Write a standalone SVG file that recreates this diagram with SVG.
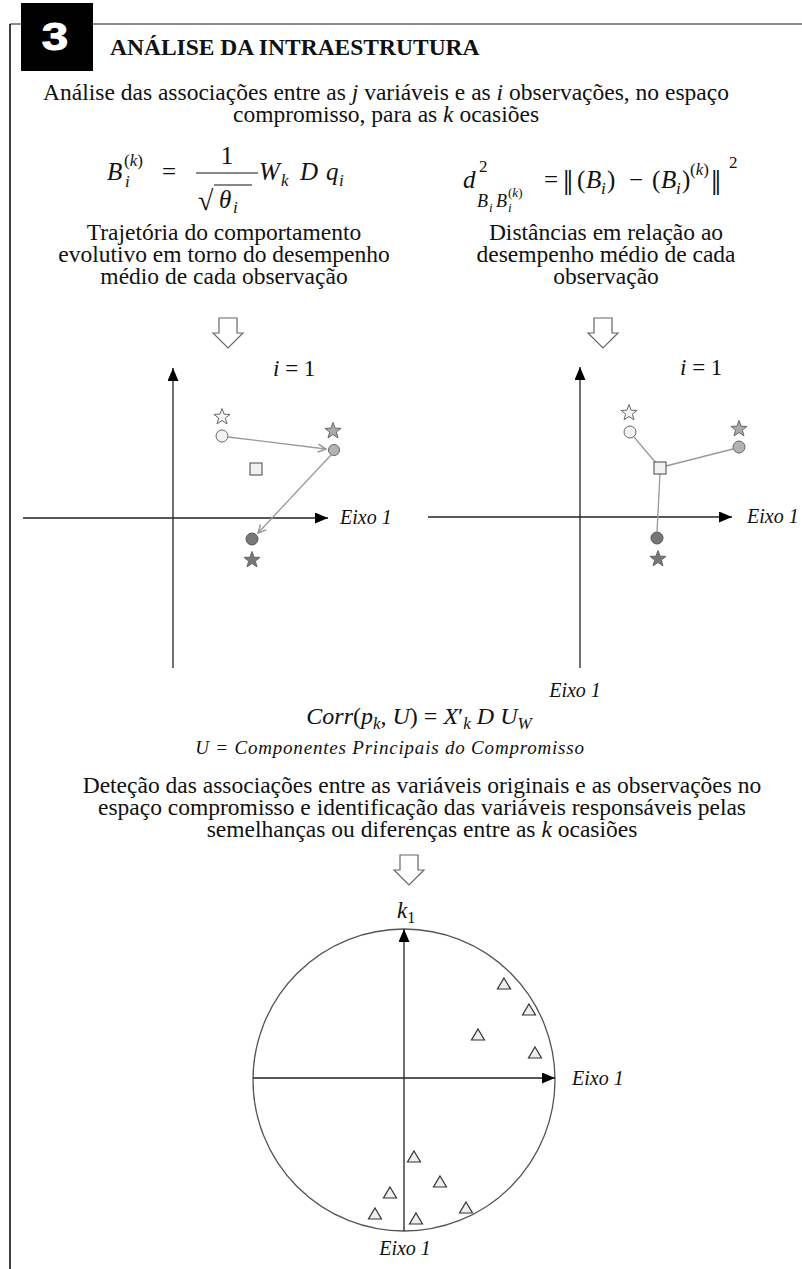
<svg xmlns="http://www.w3.org/2000/svg" width="802" height="1269" viewBox="0 0 802 1269">
<style>
text { font-family: "Liberation Serif", "Times New Roman", serif; fill: #111; }
.b { font-size: 23.5px; }
.m { font-style: italic; }
.ei { font-size: 20px; font-style: italic; }
.ax { stroke: #222; stroke-width: 1.3; fill: none; }
.gl { stroke: #999; stroke-width: 1.3; fill: none; }
.blk { fill: #fff; stroke: #666; stroke-width: 1.2; }
.tri { fill: #eee; stroke: #333; stroke-width: 1.2; }
</style>
<defs>
<marker id="ah" viewBox="0 0 13 11" refX="13" refY="5.5" markerWidth="13" markerHeight="11" markerUnits="userSpaceOnUse" orient="auto">
<path d="M0,0 L13,5.5 L0,11 Z" fill="#000"/>
</marker>
<marker id="oa" viewBox="0 0 10 10" refX="9" refY="5" markerWidth="10" markerHeight="10" markerUnits="userSpaceOnUse" orient="auto">
<path d="M1,1 L9,5 L1,9" stroke="#999" stroke-width="1.5" fill="none"/>
</marker>
<path id="star" d="M0,-8.5 L2.06,-2.84 L8.08,-2.63 L3.34,1.08 L5,6.88 L0,3.5 L-5,6.88 L-3.34,1.08 L-8.08,-2.63 L-2.06,-2.84 Z" stroke="#666" stroke-width="1"/>
<path id="barrow" d="M-9,0 H9 V15 H15 L0,30 L-15,15 H-9 Z"/>
<path id="tri" d="M0,-6 L6.5,5 L-6.5,5 Z"/>
</defs>

<g id="frame">
<line x1="10" y1="24" x2="802" y2="24" stroke="#666" stroke-width="1.5"/>
<line x1="10" y1="24" x2="10" y2="1269" stroke="#000" stroke-width="1.5"/>
<rect x="21" y="3" width="72" height="68" fill="#000"/>
<text x="55" y="50" font-weight="bold" font-size="38" text-anchor="middle" stroke="#fff" stroke-width="1" transform="translate(55 0) scale(1.25 1) translate(-55 0)" style="fill:#fff;font-family:'Liberation Sans','DejaVu Sans',sans-serif">3</text>
<text x="110" y="55" font-weight="bold" font-size="23.5">ANÁLISE DA INTRAESTRUTURA</text>
</g>

<g id="intro">
<text class="b" x="386" y="100" text-anchor="middle">Análise das associações entre as <tspan class="m">j</tspan> variáveis e as <tspan class="m">i</tspan> observações, no espaço</text>
<text class="b" x="386" y="122" text-anchor="middle">compromisso, para as <tspan class="m">k</tspan> ocasiões</text>
</g>

<g id="formula-left">
<text class="m" x="107" y="180" font-size="25">B</text>
<text class="m" x="125" y="187" font-size="17">i</text>
<text x="124" y="166" font-size="17">(<tspan class="m">k</tspan>)</text>
<text x="169" y="180" font-size="25" text-anchor="middle">=</text>
<text x="227" y="164" font-size="25" text-anchor="middle">1</text>
<line x1="196" y1="173" x2="258" y2="173" stroke="#111" stroke-width="1.2"/>
<text x="198" y="210" font-size="28">√</text>
<line x1="214" y1="185" x2="252" y2="185" stroke="#111" stroke-width="1.1"/>
<text class="m" x="219" y="208" font-size="25">θ</text>
<text class="m" x="233" y="213" font-size="17">i</text>
<text class="m" x="259" y="180" font-size="25">W</text>
<text class="m" x="281" y="186" font-size="17">k</text>
<text class="m" x="300" y="180" font-size="25">D</text>
<text class="m" x="326" y="180" font-size="25">q</text>
<text class="m" x="339" y="186" font-size="17">i</text>
</g>

<g id="formula-right">
<text class="m" x="463" y="188" font-size="25">d</text>
<text x="479" y="172" font-size="17">2</text>
<text class="m" x="477" y="207" font-size="18">B</text>
<text class="m" x="489" y="212" font-size="13">i</text>
<text class="m" x="496" y="207" font-size="18">B</text>
<text class="m" x="508" y="212" font-size="13">i</text>
<text x="508" y="197" font-size="13">(<tspan class="m">k</tspan>)</text>
<text x="551" y="188" font-size="25" text-anchor="middle">=</text>
<text x="563" y="195" font-size="36">‖</text>
<text x="577" y="188" font-size="25">(</text>
<text class="m" x="586" y="188" font-size="25">B</text>
<text class="m" x="601" y="194" font-size="17">i</text>
<text x="607" y="188" font-size="25">)</text>
<text x="636" y="188" font-size="25" text-anchor="middle">−</text>
<text x="652" y="188" font-size="25">(</text>
<text class="m" x="661" y="188" font-size="25">B</text>
<text class="m" x="676" y="194" font-size="17">i</text>
<text x="682" y="188" font-size="25">)</text>
<text x="690" y="175" font-size="17">(<tspan class="m">k</tspan>)</text>
<text x="711" y="195" font-size="36">‖</text>
<text x="729" y="168" font-size="17">2</text>
</g>

<g id="caption-left">
<text class="b" x="224" y="240" text-anchor="middle">Trajetória do comportamento</text>
<text class="b" x="224" y="262" text-anchor="middle">evolutivo em torno do desempenho</text>
<text class="b" x="224" y="284" text-anchor="middle">médio de cada observação</text>
</g>
<g id="caption-right">
<text class="b" x="606" y="240" text-anchor="middle">Distâncias em relação ao</text>
<text class="b" x="606" y="262" text-anchor="middle">desempenho médio de cada</text>
<text class="b" x="606" y="284" text-anchor="middle">observação</text>
</g>

<g id="block-arrows">
<use href="#barrow" class="blk" x="228" y="318"/>
<use href="#barrow" class="blk" x="603" y="318"/>
<use href="#barrow" class="blk" x="409" y="855"/>
</g>

<g id="plot-left">
<line class="ax" x1="173" y1="668" x2="173" y2="368" marker-end="url(#ah)"/>
<line class="ax" x1="23" y1="518" x2="328" y2="518" marker-end="url(#ah)"/>
<text class="ei" x="340" y="524">Eixo 1</text>
<text x="273" y="376" font-size="23"><tspan class="m">i</tspan> = 1</text>
<use href="#star" x="222" y="417" fill="#f5f5f5"/>
<circle cx="222" cy="436" r="6" fill="#f2f2f2" stroke="#666" stroke-width="1"/>
<use href="#star" x="333" y="431" fill="#aaa"/>
<circle cx="334" cy="450" r="5.5" fill="#b3b3b3" stroke="#666" stroke-width="1"/>
<rect x="250" y="463" width="12" height="12" fill="#f2f2f2" stroke="#444" stroke-width="1"/>
<circle cx="252" cy="539" r="6" fill="#777" stroke="#555" stroke-width="1"/>
<use href="#star" x="252" y="560" fill="#777"/>
</g>

<g id="plot-right">
<line class="ax" x1="580" y1="668" x2="580" y2="367" marker-end="url(#ah)"/>
<line class="ax" x1="428" y1="517" x2="732" y2="517" marker-end="url(#ah)"/>
<text class="ei" x="747" y="523">Eixo 1</text>
<text class="ei" x="575" y="697" text-anchor="middle">Eixo 1</text>
<text x="680" y="375" font-size="23"><tspan class="m">i</tspan> = 1</text>
<use href="#star" x="629" y="413" fill="#f5f5f5"/>
<circle cx="630" cy="432" r="6" fill="#f2f2f2" stroke="#666" stroke-width="1"/>
<use href="#star" x="739" y="429" fill="#aaa"/>
<circle cx="739" cy="447" r="6" fill="#b3b3b3" stroke="#666" stroke-width="1"/>
<circle cx="657" cy="538" r="6" fill="#777" stroke="#555" stroke-width="1"/>
<use href="#star" x="658" y="559" fill="#777"/>
</g>

<g id="connectors">
<line class="gl" x1="228" y1="437" x2="326" y2="449" marker-end="url(#oa)"/>
<line class="gl" x1="331" y1="455" x2="258" y2="533" marker-end="url(#oa)"/>
<line class="gl" x1="634" y1="437" x2="656" y2="463"/>
<line class="gl" x1="666" y1="466" x2="733" y2="449"/>
<line class="gl" x1="660" y1="474" x2="657" y2="532"/>
</g>
<g id="plot-right-square">
<rect x="654" y="462" width="12" height="12" fill="#f2f2f2" stroke="#444" stroke-width="1"/>
</g>

<g id="corr">
<text x="419" y="724" font-size="24" text-anchor="middle"><tspan class="m">Corr</tspan>(<tspan class="m">p</tspan><tspan class="m" font-size="17" dy="5">k</tspan><tspan dy="-5">, </tspan><tspan class="m">U</tspan>) = <tspan class="m">X</tspan>′<tspan class="m" font-size="17" dy="5">k</tspan><tspan dy="-5"> </tspan><tspan class="m">D U</tspan><tspan class="m" font-size="17" dy="5">W</tspan></text>
<text class="m" x="390" y="754" font-size="19" letter-spacing="0.8" text-anchor="middle">U = Componentes Principais do Compromisso</text>
</g>

<g id="caption-bottom">
<text class="b" x="422" y="793" text-anchor="middle">Deteção das associações entre as variáveis originais e as observações no</text>
<text class="b" x="422" y="815" text-anchor="middle">espaço compromisso e identificação das variáveis responsáveis pelas</text>
<text class="b" x="422" y="837" text-anchor="middle">semelhanças ou diferenças entre as <tspan class="m">k</tspan> ocasiões</text>
</g>

<g id="circle-plot">
<text x="397" y="918" font-size="23"><tspan class="m">k</tspan><tspan font-size="16" dy="5">1</tspan></text>
<circle cx="404" cy="1080" r="151" fill="none" stroke="#555" stroke-width="1.3"/>
<line class="ax" x1="404" y1="1231" x2="404" y2="929" stroke="#000" marker-end="url(#ah)"/>
<line class="ax" x1="253" y1="1078" x2="555" y2="1078" stroke="#000" marker-end="url(#ah)"/>
<text class="ei" x="572" y="1085">Eixo 1</text>
<text class="ei" x="405" y="1255" text-anchor="middle">Eixo 1</text>
<use href="#tri" class="tri" x="504" y="984"/>
<use href="#tri" class="tri" x="529" y="1010"/>
<use href="#tri" class="tri" x="478" y="1035"/>
<use href="#tri" class="tri" x="535" y="1053"/>
<use href="#tri" class="tri" x="414" y="1157"/>
<use href="#tri" class="tri" x="440" y="1182"/>
<use href="#tri" class="tri" x="390" y="1193"/>
<use href="#tri" class="tri" x="375" y="1214"/>
<use href="#tri" class="tri" x="416" y="1219"/>
<use href="#tri" class="tri" x="466" y="1208"/>
</g>
</svg>
